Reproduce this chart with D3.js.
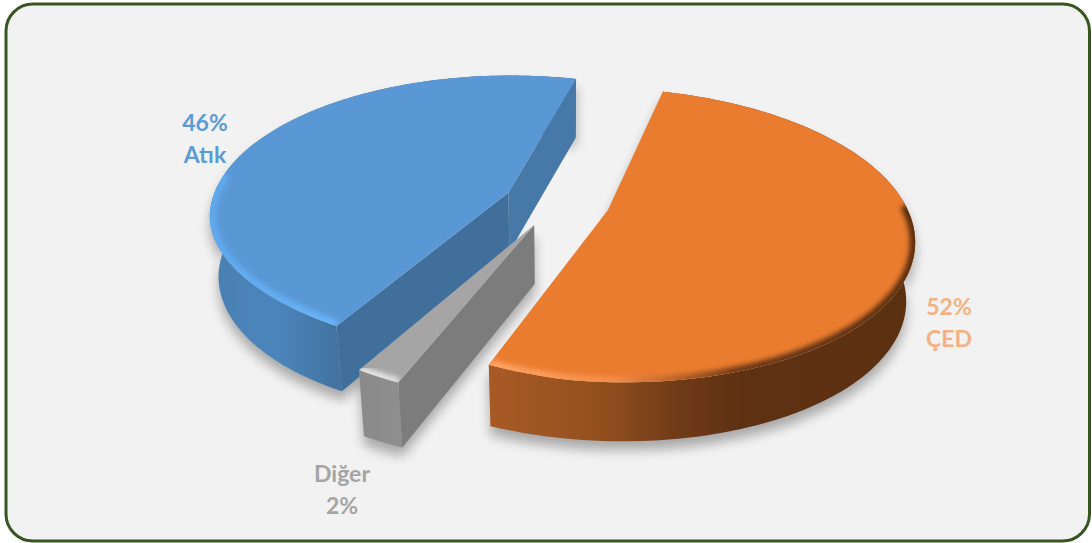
<!DOCTYPE html>
<html>
<head>
<meta charset="utf-8">
<script src="https://cdn.jsdelivr.net/npm/d3@7"></script>
<style>
html,body{margin:0;padding:0;background:#fff}
svg{display:block}
text{font-family:Lato,"Open Sans",sans-serif;font-weight:700;font-size:23px;text-anchor:middle}
</style>
</head>
<body>
<div id="chart"></div>
<script>
// Waste / EIA share, drawn as an exploded 3D pie
const categories = ["ÇED", "Diğer", "Atık"];
const values = [52, 2, 46];
const topColors = ["#ea7c30", "#a5a5a5", "#5a98d5"];
const labelColors = ["#f4b183", "#a5a5a5", "#5b9bd5"];

const W = 1092, H = 543;
const cx = 557, cy = 202;      // screen position of the pie centre
const radiusX = 297, radiusY = 140; // projected radii of the unit circle
const persp = 0.17;            // perspective strength along the depth axis
const shear = 0.018;           // camera offset: the front of the pie slides right
const twist = 12;              // lift of the front-left quadrant's top edge, in px
const explode = 0.178;         // slice offset, in pie radii
const depth = 59, lean = 0.975; // extrusion height and its convergence
const firstAngle = 15 * Math.PI / 180;

const svg = d3.select("#chart").append("svg").attr("width", W).attr("height", H);
const defs = svg.append("defs");

const sx = d3.scaleLinear().domain([-1, 1]).range([cx - radiusX, cx + radiusX]);
const sy = d3.scaleLinear().domain([-1, 1]).range([cy + radiusY, cy - radiusY]);

const pie = d3.pie().sort(null).startAngle(firstAngle).endAngle(firstAngle + 2 * Math.PI);
const slices = pie(values);

// Plane point of a slice (angle clockwise from the back of the pie) -> screen point
function project(slice, angle, r, lower) {
  const mid = (slice.startAngle + slice.endAngle) / 2;
  const X = r * Math.sin(angle) + explode * Math.sin(mid);
  const Y = r * Math.cos(angle) + explode * Math.cos(mid);
  const w = 1 + persp * Y;
  let px = sx((X - shear * Y) / w);
  let py = sy(Y / w);
  if (lower) { px = cx + (px - cx) * lean; py += depth; }
  else { py -= twist * Math.max(0, -X) * Math.max(0, -Y); }
  return [px, py];
}

const line = d3.line();
const rimPoints = (s, a0, a1, lower) =>
  d3.range(0, 1.0001, 1 / 120).map(t => project(s, a0 + (a1 - a0) * t, 1, lower));
const deg = d => d * Math.PI / 180;

function topPoints(s) {
  return [project(s, 0, 0, false), ...rimPoints(s, s.startAngle, s.endAngle, false)];
}
function silhouette(s) {
  return [project(s, 0, 0, false), ...rimPoints(s, s.startAngle, s.endAngle, false),
          ...rimPoints(s, s.endAngle, s.startAngle, true), project(s, 0, 0, true)];
}
function gradient(id, x1, x2, stops) {
  const g = defs.append("linearGradient").attr("id", id)
    .attr("gradientUnits", "userSpaceOnUse")
    .attr("x1", x1).attr("x2", x2).attr("y1", 0).attr("y2", 0);
  stops.forEach(([o, c, a]) => g.append("stop").attr("offset", o).attr("stop-color", c)
    .attr("stop-opacity", a === undefined ? 1 : a));
}

defs.append("filter").attr("id", "soft").attr("x", "-20%").attr("y", "-20%").attr("width", "140%").attr("height", "140%")
  .append("feGaussianBlur").attr("stdDeviation", 6);
defs.append("filter").attr("id", "bevel").attr("x", "-10%").attr("y", "-10%").attr("width", "120%").attr("height", "120%")
  .append("feGaussianBlur").attr("stdDeviation", 2.4);

gradient("wall0", 489, 912, [[0, "#a85a25"], [0.26, "#93501f"], [0.45, "#6f3a17"], [0.6, "#5e3112"], [1, "#5b3011"]]);
gradient("wall1", 362, 405, [[0, "#8a8a8a"], [1, "#8f8f8f"]]);
gradient("wall2", 207, 347, [[0, "#4a80b3"], [0.5, "#4b85bb"], [1, "#40709c"]]);
gradient("rim0", 489, 912, [[0, "#ffa566"], [0.3, "#f48d48"], [0.44, "#b9632a"], [0.6, "#6a3714"], [1, "#5a2f11"]]);
gradient("rim2", 207, 345, [[0, "#5fa9ee"], [1, "#69b4fa"]]);

// Panel
svg.append("rect").attr("x", 6).attr("y", 4).attr("width", 1083.5).attr("height", 537).attr("rx", 27)
  .attr("fill", "#f2f2f2").attr("stroke", "#375623").attr("stroke-width", 3);

// Soft ground shadows
svg.append("g").selectAll("path").data(slices).join("path")
  .attr("d", s => line(silhouette(s)) + "Z")
  .attr("transform", "translate(0,9)")
  .attr("fill", "#000").attr("opacity", 0.3).attr("filter", "url(#soft)");

// Slices, back to front
const paintOrder = [2, 1, 0];
const sideShades = {
  1: { inner: "#7c7c7c", outer: "#7c7c7c" },
  2: { inner: "#3f6f9a", outer: "#4678a8" }
};
paintOrder.forEach(i => {
  const s = slices[i];
  const g = svg.append("g").attr("class", "slice-" + categories[i]);
  const apexT = project(s, 0, 0, false), apexB = project(s, 0, 0, true);
  const shade = sideShades[i];
  // outer rim wall
  g.append("path").attr("fill", `url(#wall${i})`)
    .attr("d", line([...rimPoints(s, s.startAngle, s.endAngle, false),
                     ...rimPoints(s, s.endAngle, s.startAngle, true)]) + "Z");
  if (i === 2) {
    // cut faces of the large slice
    g.append("path").attr("fill", shade.outer).attr("d", line([apexT, apexB,
      project(s, s.endAngle, 1, true), project(s, s.endAngle, 1, false)]) + "Z");
    g.append("path").attr("fill", shade.inner).attr("d", line([apexT, apexB,
      project(s, s.startAngle, 1, true), project(s, s.startAngle, 1, false)]) + "Z");
  }
  if (i === 1) {
    g.append("path").attr("fill", shade.inner).attr("d", line([apexT, apexB,
      project(s, s.startAngle, 1, true), project(s, s.startAngle, 1, false)]) + "Z");
  }
  // top face
  g.append("path").attr("fill", topColors[i]).attr("d", line(topPoints(s)) + "Z");
  // bevel along the front of the rim, kept inside the top face
  const clipId = "clip" + i;
  defs.append("clipPath").attr("id", clipId).append("path").attr("d", line(topPoints(s)) + "Z");
  const b = g.append("g").attr("clip-path", `url(#${clipId})`);
  if (i === 0) {
    b.append("path").attr("d", line(rimPoints(s, deg(88), s.endAngle, false)))
      .attr("fill", "none").attr("stroke", "url(#rim0)").attr("stroke-width", 11).attr("filter", "url(#bevel)");
  } else if (i === 2) {
    b.append("path").attr("d", line(rimPoints(s, s.startAngle, deg(278), false)))
      .attr("fill", "none").attr("stroke", "url(#rim2)").attr("stroke-width", 12).attr("filter", "url(#bevel)");
  } else {
    b.append("path").attr("d", line(rimPoints(s, s.startAngle, s.endAngle, false)))
      .attr("fill", "none").attr("stroke", "#e2e2e2").attr("stroke-width", 10).attr("filter", "url(#bevel)");
  }
});

// Data labels
const labelPos = [
  { lines: [values[0] + "%", categories[0]], x: 949, y: 315 },
  { lines: [categories[1], values[1] + "%"], x: 342, y: 482 },
  { lines: [values[2] + "%", categories[2]], x: 205, y: 131 }
];
labelPos.forEach((l, i) => {
  svg.append("text").attr("x", l.x).attr("y", l.y).attr("fill", labelColors[i]).text(l.lines[0]);
  svg.append("text").attr("x", l.x).attr("y", l.y + 32).attr("fill", labelColors[i]).text(l.lines[1]);
});
</script>
</body>
</html>
